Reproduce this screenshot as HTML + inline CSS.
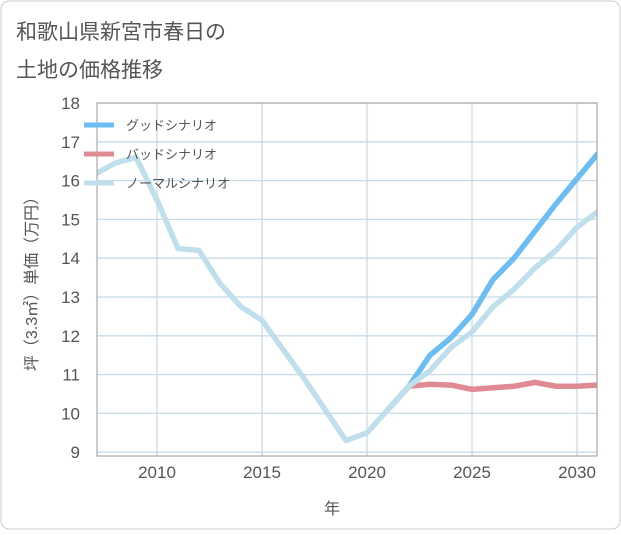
<!DOCTYPE html>
<html><head><meta charset="utf-8"><style>
body{margin:0;background:#fff;font-family:"Liberation Sans","Noto Sans CJK JP",sans-serif;}
</style></head><body>
<svg width="621" height="530" xmlns="http://www.w3.org/2000/svg" font-family="Liberation Sans, Noto Sans CJK JP, sans-serif">
<defs><clipPath id="pc"><rect x="97" y="103" width="500" height="353"/></clipPath></defs>
<rect x="1" y="1" width="619" height="528" rx="8" fill="#fff" stroke="#ccc"/>
<text x="16" y="39" font-size="21" fill="#555">和歌山県新宮市春日の</text>
<text x="16" y="77" font-size="21" fill="#555">土地の価格推移</text>
<g id="grid"></g><g id="lines" clip-path="url(#pc)"></g><g id="axes"></g>
<rect x="97" y="103" width="500" height="353" fill="none" stroke="#999"/>
<text x="332" y="514" font-size="16" fill="#555" text-anchor="middle">年</text>
<text transform="translate(37,280) rotate(-90)" font-size="16" fill="#555" text-anchor="middle">坪（3.3㎡）単価（万円）</text>
<g>
<line x1="84" y1="125" x2="114" y2="125" stroke="#6cbdf2" stroke-width="5"/>
<text x="126" y="130" font-size="13" fill="#555">グッドシナリオ</text>
<line x1="84" y1="154" x2="114" y2="154" stroke="#e08b93" stroke-width="5"/>
<text x="126" y="159" font-size="13" fill="#555">バッドシナリオ</text>
<line x1="84" y1="183" x2="114" y2="183" stroke="#c0dfec" stroke-width="5"/>
<text x="126" y="188" font-size="13" fill="#555">ノーマルシナリオ</text>
</g>
</svg>
<script>
const yTicks=[9,10,11,12,13,14,15,16,17,18];
const xTicks=[2010,2015,2020,2025,2030];
const normalYears=[2007,2008,2009,2010,2011,2012,2013,2014,2015,2016,2017,2018,2019,2020,2021,2022,2023,2024,2025,2026,2027,2028,2029,2030,2031];
const normalValues=[16.15,16.45,16.6,15.5,14.25,14.2,13.35,12.75,12.4,11.65,10.9,10.1,9.3,9.5,10.1,10.7,11.1,11.7,12.1,12.75,13.2,13.75,14.2,14.8,15.2];
const futureYears=[2021,2022,2023,2024,2025,2026,2027,2028,2029,2030,2031];
const goodValues=[10.1,10.7,11.5,11.95,12.55,13.45,14.0,14.7,15.4,16.05,16.7];
const badValues=[10.1,10.7,10.75,10.73,10.62,10.66,10.7,10.8,10.7,10.7,10.73];
const NS='http://www.w3.org/2000/svg';
const xS=y=>157+(y-2010)*21;
const yS=v=>103+(18-v)*38.8;
function mk(t,a,p){const e=document.createElementNS(NS,t);for(const k in a)e.setAttribute(k,a[k]);p.appendChild(e);return e;}
const grid=document.getElementById('grid'),axes=document.getElementById('axes'),lines=document.getElementById('lines');
yTicks.forEach(v=>{
const l=mk('line',{x1:97,x2:597,y1:yS(v),y2:yS(v),stroke:'#c8dbe8','stroke-width':1.3},grid);


const t=mk('text',{x:80,y:yS(v)+6,'font-size':17,fill:'#555','text-anchor':'end'},axes);
t.textContent=v;


});
xTicks.forEach(v=>{
const l=mk('line',{x1:xS(v),x2:xS(v),y1:103,y2:456,stroke:'#c8dbe8','stroke-width':1.3},grid);


const t=mk('text',{x:xS(v),y:478,'font-size':17,fill:'#555','text-anchor':'middle'},axes);
t.textContent=v;


});
function series(xs,vs,color,name){
const p=mk('polyline',{points:xs.map((x,i)=>xS(x)+','+yS(vs[i])).join(' '),fill:'none',stroke:color,'stroke-width':5.5,'stroke-linejoin':'round'},lines);


}
series(futureYears,badValues,'#e08b93','bad-scenario-line');
series(futureYears,goodValues,'#6cbdf2','good-scenario-line');
series(normalYears,normalValues,'#c0dfec','normal-scenario-line');
</script>
</body></html>
